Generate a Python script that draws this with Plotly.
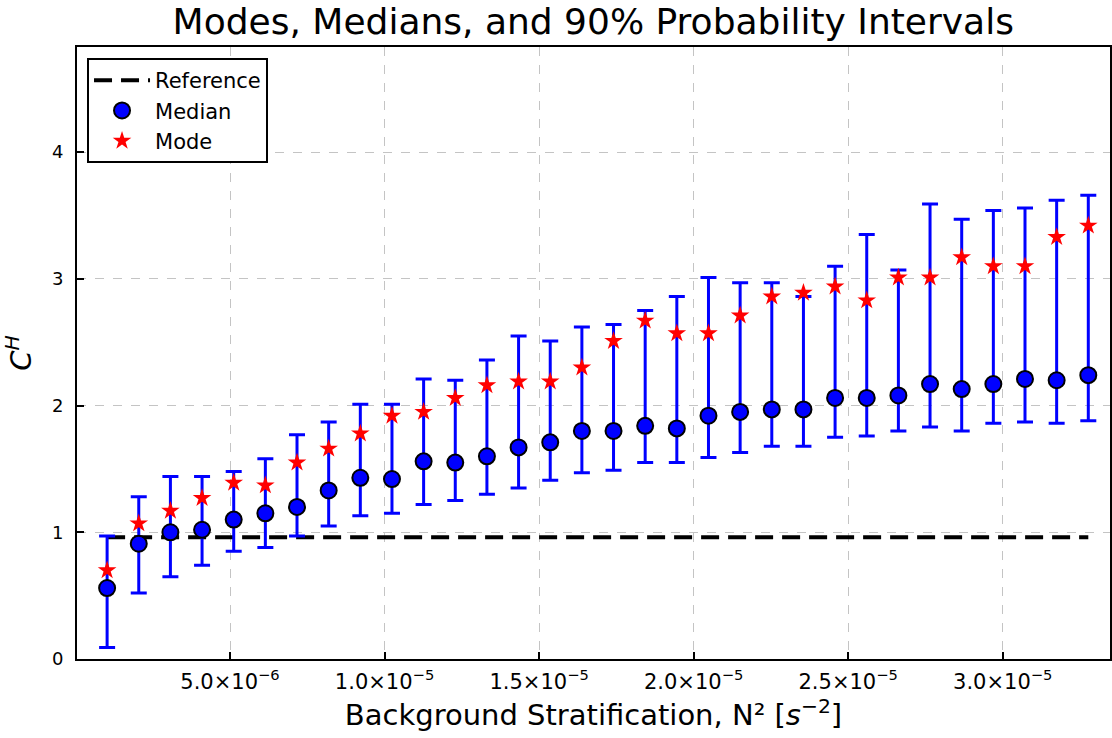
import plotly.graph_objects as go

# Data
n2 = [1.024e-6, 2.048e-6, 3.072e-6, 4.096e-6, 5.12e-6, 6.144e-6, 7.168e-6, 8.192e-6,
      9.216e-6, 1.024e-5, 1.1264e-5, 1.2288e-5, 1.3312e-5, 1.4336e-5, 1.536e-5, 1.6384e-5,
      1.7408e-5, 1.8432e-5, 1.9456e-5, 2.048e-5, 2.1504e-5, 2.2528e-5, 2.3552e-5, 2.4576e-5,
      2.56e-5, 2.6624e-5, 2.7648e-5, 2.8672e-5, 2.9696e-5, 3.072e-5, 3.1744e-5, 3.2768e-5]
median = [0.56, 0.91, 1.00, 1.02, 1.10, 1.15, 1.20, 1.33, 1.43, 1.42, 1.56, 1.55, 1.60, 1.67,
          1.71, 1.80, 1.80, 1.84, 1.82, 1.92, 1.95, 1.97, 1.97, 2.06, 2.06, 2.08, 2.17, 2.13,
          2.17, 2.21, 2.20, 2.24]
mode = [0.70, 1.07, 1.17, 1.27, 1.39, 1.37, 1.55, 1.66, 1.78, 1.92, 1.95, 2.06, 2.16, 2.19,
        2.19, 2.30, 2.51, 2.67, 2.57, 2.57, 2.71, 2.86, 2.89, 2.94, 2.83, 3.01, 3.01, 3.17,
        3.10, 3.10, 3.33, 3.42]
upper = [0.97, 1.28, 1.44, 1.44, 1.48, 1.58, 1.77, 1.87, 2.01, 2.01, 2.21, 2.20, 2.36, 2.55,
         2.51, 2.62, 2.64, 2.75, 2.86, 3.01, 2.97, 2.97, 2.86, 3.10, 3.35, 3.07, 3.59, 3.47,
         3.54, 3.56, 3.62, 3.66]
lower = [0.09, 0.52, 0.65, 0.74, 0.85, 0.88, 0.97, 1.05, 1.13, 1.15, 1.22, 1.25, 1.30, 1.35,
         1.41, 1.47, 1.49, 1.55, 1.55, 1.59, 1.63, 1.68, 1.68, 1.75, 1.76, 1.80, 1.83, 1.80,
         1.86, 1.87, 1.86, 1.88]
reference_value = 0.96
x_tickvals = [5e-6, 1e-5, 1.5e-5, 2e-5, 2.5e-5, 3e-5]
x_ticktext = ["5.0×10<sup>−6</sup>", "1.0×10<sup>−5</sup>", "1.5×10<sup>−5</sup>",
              "2.0×10<sup>−5</sup>", "2.5×10<sup>−5</sup>", "3.0×10<sup>−5</sup>"]
y_tickvals = [0, 1, 2, 3, 4]

err_plus = [u - m for u, m in zip(upper, median)]
err_minus = [m - l for m, l in zip(median, lower)]

FONT = "DejaVu Sans"

fig = go.Figure()
fig.add_trace(go.Scatter(
    x=[n2[0], n2[-1]], y=[reference_value, reference_value], mode="lines",
    name="Reference", line=dict(color="black", width=4, dash="18px,9px")))
fig.add_trace(go.Scatter(
    x=n2, y=median, mode="markers", name="Median",
    marker=dict(symbol="circle", size=16, color="#0000ff", line=dict(color="black", width=2)),
    error_y=dict(type="data", array=err_plus, arrayminus=err_minus, color="#0000ff",
                 thickness=3, width=8)))
fig.add_trace(go.Scatter(
    x=n2, y=mode, mode="markers", name="Mode",
    marker=dict(symbol="star", size=14, color="#ff0000", line=dict(width=0))))

axis_common = dict(
    showline=True, linecolor="black", linewidth=2, mirror=True,
    ticks="inside", ticklen=7, tickwidth=1.5, tickcolor="black",
    showgrid=True, gridcolor="#c4c4c4", gridwidth=1, griddash="dash",
    zeroline=False,
)

fig.update_layout(
    width=1112, height=738,
    margin=dict(l=77, r=2, t=47, b=79, autoexpand=False),
    paper_bgcolor="white", plot_bgcolor="white",
    font=dict(family=FONT, color="black"),
    title=dict(text="Modes, Medians, and 90% Probability Intervals",
               font=dict(family=FONT, size=36, color="black"),
               x=0.5335, xanchor="center", y=0.9705, yanchor="middle"),
    xaxis=dict(range=[0.05e-6, 3.347e-5], tickvals=x_tickvals, ticktext=x_ticktext,
               ticklabelstandoff=3,
               tickfont=dict(family=FONT, size=21, color="black"),
               title=dict(text="Background Stratification, N² [<i>s</i><sup>−2</sup>]",
                          font=dict(family=FONT, size=29), standoff=7),
               **axis_common),
    yaxis=dict(range=[0, 4.83], tickvals=y_tickvals, ticklabelstandoff=8,
               tickfont=dict(family=FONT, size=18, color="black"),
               title=dict(text="<i>C</i><sup><i>H</i></sup>",
                          font=dict(family=FONT, size=29), standoff=16),
               **axis_common),
    legend=dict(x=0.0097, y=0.982, xanchor="left", yanchor="top",
                bgcolor="white", bordercolor="black", borderwidth=2,
                font=dict(family=FONT, size=21, color="black"),
                itemwidth=56, tracegroupgap=0),
    showlegend=True,
)

# remove the default 8px page margin so the figure sits at the window's corner
fig.write_html("out.html", config={"displayModeBar": False},
               post_script="document.body.style.margin='0';")
